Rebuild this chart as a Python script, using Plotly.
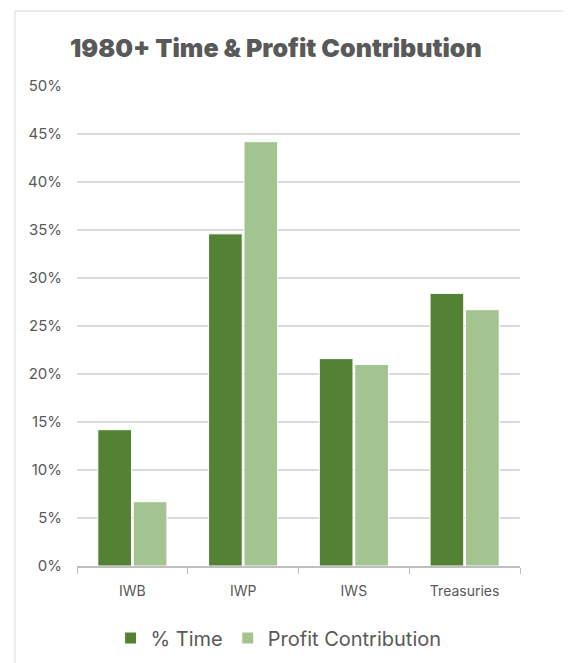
import plotly.graph_objects as go

categories = ["IWB", "IWP", "IWS", "Treasuries"]
time_pct = [14.2, 34.6, 21.6, 28.4]
profit_pct = [6.7, 44.2, 21.0, 26.7]
y_ticks = [0, 5, 10, 15, 20, 25, 30, 35, 40, 45, 50]
y_labels = [f"{v}%" for v in y_ticks]

dark = "#548235"
light = "#A3C490"
txt = "#595959"

# page body adds an 8px offset, so the figure is 8px smaller than the window
W, H = 563, 655

fig = go.Figure()
fig.add_bar(x=categories, y=time_pct, name="% Time",
            marker=dict(color=dark, line=dict(color="white", width=1)))
fig.add_bar(x=categories, y=profit_pct, name="Profit Contribution",
            marker=dict(color=light, line=dict(color="white", width=1)))

fig.update_layout(
    width=W, height=H,
    margin=dict(l=69, r=51, t=78, b=97, autoexpand=False),
    paper_bgcolor="white", plot_bgcolor="white",
    barmode="group", bargap=0.36, bargroupgap=0.05,
    font=dict(family="Inter", color=txt),
    title=dict(text="1980+ Time & Profit Contribution",
               font=dict(family="Inter", size=25, weight=900, color=txt),
               x=0.449, xref="paper", xanchor="center",
               y=1 - 40 / H, yref="container", yanchor="middle"),
    showlegend=True,
    legend=dict(orientation="h", x=0.455, xanchor="center",
                y=(H - 630) / H, yref="container", yanchor="middle",
                font=dict(size=20, color=txt), itemwidth=30),
    xaxis=dict(showgrid=False, showline=True, linecolor="#bfbfbf", linewidth=1.5,
               ticks="outside", tickson="boundaries", ticklen=6, tickcolor="#bfbfbf",
               tickfont=dict(size=14, color=txt), ticklabelstandoff=11),
    yaxis=dict(range=[0, 50], tickvals=y_ticks, ticktext=y_labels,
               showgrid=True, gridcolor="#d9d9d9", gridwidth=1.5,
               zeroline=False, showline=False,
               tickfont=dict(size=15, color=txt), ticklabelstandoff=14),
    shapes=[dict(type="rect", xref="paper", yref="paper",
                 x0=-0.14, x1=1.13, y0=-0.22, y1=1.156,
                 line=dict(color="#e6e6e6", width=1.5), layer="below")],
)

fig.write_html("out.html")
